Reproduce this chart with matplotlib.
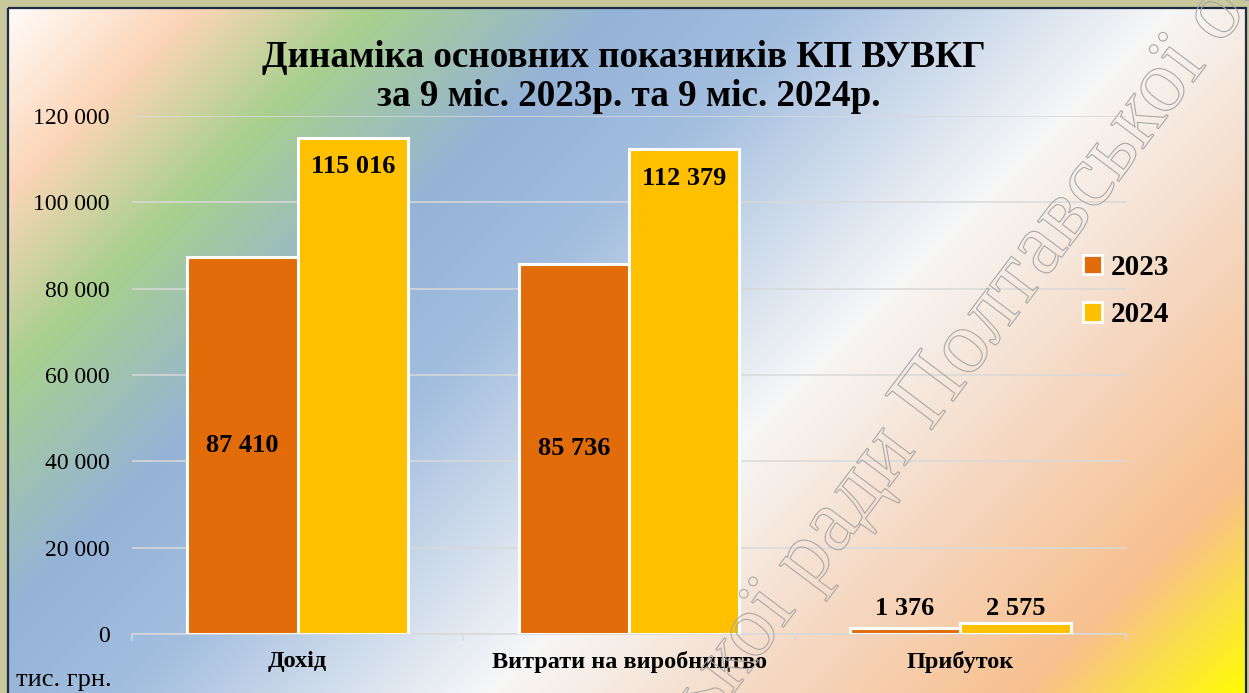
import numpy as np
import matplotlib.pyplot as plt
import matplotlib.patheffects as pe
from matplotlib.patches import Patch, Rectangle
from matplotlib.colors import to_rgb

categories = ['Дохід', 'Витрати на виробництво', 'Прибуток']
years = ['2023', '2024']
values_2023 = [87410, 85736, 1376]
values_2024 = [115016, 112379, 2575]
yticks = [0, 20000, 40000, 60000, 80000, 100000, 120000]

title_1 = 'Динаміка основних показників КП ВУВКГ'
title_2 = 'за 9 міс. 2023р. та 9 міс. 2024р.'
unit = 'тис. грн.'
watermark_a = 'міської ради'
watermark_b = 'Полтавської області'

colors = ['#e36c0a', '#ffc000']
W, H = 1249, 693

plt.rcParams['font.family'] = ['Liberation Serif', 'DejaVu Serif']

fig = plt.figure(figsize=(W / 100, H / 100), dpi=100)
fig.patch.set_facecolor('#c8c89c')

# diagonal gradient of the slide background
stops = [(0, '#ffffff'), (200, '#fcd5b8'), (380, '#a9d08e'), (620, '#95b3d7'),
         (820, '#a3bedf'), (1180, '#f7f7f7'), (1450, '#f5d8c2'),
         (1720, '#f8c08e'), (1942, '#ffff00')]
pos = [s[0] for s in stops]
rgb = np.array([to_rgb(s[1]) for s in stops])
yy, xx = np.mgrid[0:H, 0:W]
t = xx + yy
img = np.stack([np.interp(t, pos, rgb[:, i]) for i in range(3)], axis=-1)
outside = (xx < 9) | (yy < 9) | (xx > 1245)
img[outside] = to_rgb('#c8c89c')

bg = fig.add_axes([0, 0, 1, 1])
bg.imshow(img, aspect='auto', extent=(0, W, H, 0), interpolation='bilinear')
bg.add_patch(Rectangle((8, 8), 1238, 720, fill=False, ec='#1c2a44', lw=1.6))
bg.set_xlim(0, W)
bg.set_ylim(H, 0)
bg.axis('off')

ax = fig.add_axes([132 / W, (H - 634) / H, (1126 - 132) / W, (634 - 116) / H])
ax.patch.set_alpha(0)

x = np.arange(len(categories))
w = 1 / 3
b1 = ax.bar(x - w / 2, values_2023, w, color=colors[0], edgecolor='white',
            linewidth=2.2, zorder=3, label=years[0])
b2 = ax.bar(x + w / 2, values_2024, w, color=colors[1], edgecolor='white',
            linewidth=2.2, zorder=3, label=years[1])

ax.set_xlim(-0.5, 2.5)
ax.set_ylim(0, 120000)
ax.set_yticks(yticks)
ax.set_yticklabels([f'{v:,}'.replace(',', ' ') for v in yticks], fontsize=17)
ax.tick_params(axis='y', length=0, pad=16)
ax.grid(axis='y', color='#d9d9d9', lw=1.1, zorder=0)

ax.set_xticks(x)
ax.set_xticklabels(categories, fontsize=17.5, fontweight='bold')
ax.set_xticks([-0.5, 0.5, 1.5, 2.5], minor=True)
ax.tick_params(axis='x', which='major', length=0, pad=12)
ax.tick_params(axis='x', which='minor', length=5, width=1.1, color='#d9d9d9',
               direction='out')
for s in ['top', 'right', 'left']:
    ax.spines[s].set_visible(False)
ax.spines['bottom'].set_color('#d9d9d9')
ax.spines['bottom'].set_linewidth(1.1)

def fmt(v):
    return f'{v:,}'.replace(',', ' ')

for i in range(len(categories)):
    a, b = values_2023[i], values_2024[i]
    if max(a, b) < 10000:
        top = max(a, b)
        for xi, v in [(x[i] - w / 2, a), (x[i] + w / 2, b)]:
            ax.annotate(fmt(v), (xi, top), xytext=(0, 10), textcoords='offset points',
                        ha='center', va='center', fontsize=19, fontweight='bold', zorder=5)
    else:
        ax.text(x[i] - w / 2, a / 2, fmt(a), ha='center', va='center',
                fontsize=19, fontweight='bold', zorder=5)
        ax.annotate(fmt(b), (x[i] + w / 2, b), xytext=(0, -21), textcoords='offset points',
                    ha='center', va='center', fontsize=19, fontweight='bold', zorder=5)

fig.text(624 / W, 1 - 67 / H, title_1, ha='center', va='baseline',
         fontsize=26.7, fontweight='bold')
fig.text(629 / W, 1 - 106 / H, title_2, ha='center', va='baseline',
         fontsize=26.7, fontweight='bold')
fig.text(16 / W, 1 - 680 / H, unit, ha='left', va='center', fontsize=19)

handles = [Patch(facecolor=colors[0], edgecolor='white', lw=2),
           Patch(facecolor=colors[1], edgecolor='white', lw=2)]
fig.legend(handles, years, loc='center left', bbox_to_anchor=(1057 / W, 1 - 291 / H),
           frameon=False, prop={'size': 21, 'weight': 'bold'},
           handlelength=0.65, handleheight=0.65, handletextpad=0.3, labelspacing=0.7)

# watermark stamped over the scan
ang = 53
wm = dict(rotation=ang, rotation_mode='anchor', va='baseline', fontsize=64,
          color='none', zorder=20,
          path_effects=[pe.Stroke(linewidth=0.8, foreground='#a8a8a8')])
fig.text(930 / W, 1 - 432 / H, watermark_b, ha='left', **wm)
fig.text(917 / W, 1 - 450 / H, watermark_a, ha='right', **wm)

fig.savefig('out.png', dpi=100)
